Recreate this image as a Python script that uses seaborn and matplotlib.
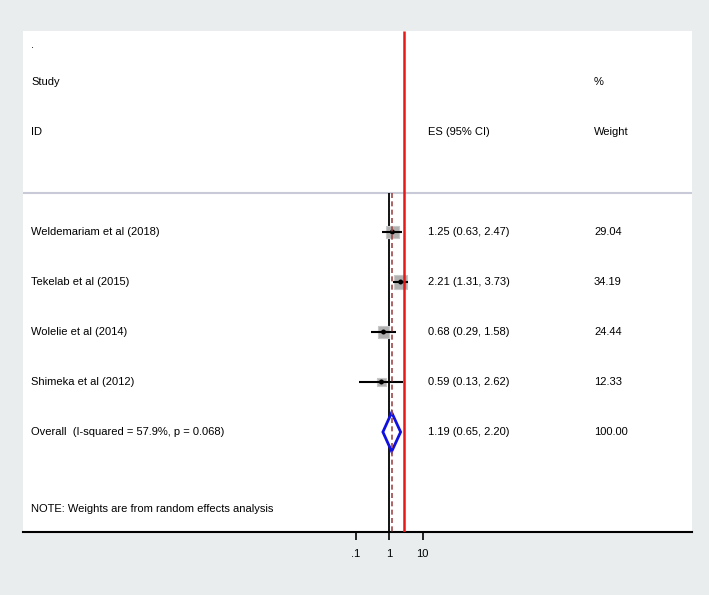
import numpy as np
import pandas as pd
import matplotlib
matplotlib.use("Agg")
import matplotlib.pyplot as plt
import matplotlib.transforms as mtransforms
from matplotlib import font_manager
import seaborn as sns

studies = ["Weldemariam et al (2018)", "Tekelab et al (2015)",
           "Wolelie et al (2014)", "Shimeka et al (2012)"]
es = [1.25, 2.21, 0.68, 0.59]
lo = [0.63, 1.31, 0.29, 0.13]
hi = [2.47, 3.73, 1.58, 2.62]
weights = [29.04, 34.19, 24.44, 12.33]
overall_label = "Overall  (I-squared = 57.9%, p = 0.068)"
overall = [1.19, 0.65, 2.20]
overall_weight = "100.00"
ref_line = 2.75
xticks = [0.1, 1, 10]
xticklabels = [".1", "1", "10"]
note = "NOTE: Weights are from random effects analysis"

names = {f.name for f in font_manager.fontManager.ttflist}
if "Liberation Sans Narrow" in names:
    plt.rcParams['font.family'] = ['Liberation Sans Narrow', 'DejaVu Sans']
    FS = 9.9
else:
    plt.rcParams['font.family'] = ['Liberation Sans', 'DejaVu Sans']
    FS = 8.0

W, H = 709, 595
fig = plt.figure(figsize=(W / 100, H / 100), dpi=100)
fig.patch.set_facecolor("#e9eded")
left, right, top, bottom = 23, 692, 31, 532
ax = fig.add_axes([left / W, (H - bottom) / H, (right - left) / W, (bottom - top) / H])
ax.set_facecolor("white")
ax.set_xscale("log")
ax.set_xlim(10 ** -10.93, 10 ** 9.04)
ax.set_ylim(6.0, -4.02)

df = pd.DataFrame({"study": studies, "es": es, "lo": lo, "hi": hi, "weight": weights})
df["row"] = np.arange(len(df))

k = 2.8
sns.scatterplot(data=df, x="es", y="row", size="weight",
                sizes=(k * min(weights), k * max(weights)),
                marker="s", color="#b0b0b0", edgecolor="#c8c8c8", linewidth=0.8,
                legend=False, ax=ax, zorder=3)
ax.hlines(df["row"], df["lo"], df["hi"], color="black", lw=1.5, zorder=4)
sns.scatterplot(data=df, x="es", y="row", color="black", s=13, edgecolor="none",
                legend=False, ax=ax, zorder=5)

orow = len(df)
ov_es, ov_lo, ov_hi = overall
dh = 0.39
ax.fill([ov_lo, ov_es, ov_hi, ov_es, ov_lo], [orow, orow - dh, orow, orow + dh, orow],
        facecolor="white", edgecolor="#1010e0", lw=2.0, zorder=4)

sep = -0.78
ax.vlines(1, sep, 6.0, color="black", lw=1.3, zorder=2)
ax.vlines(ov_es, sep, 6.0, color="#a04848", lw=1.2, linestyles=(0, (3, 2)), zorder=5)
ax.vlines(ref_line, -4.02, 6.0, color="#e81818", lw=1.8, zorder=6)
ax.axhline(sep, color="#c8cad8", lw=1.5, zorder=1)

tr = mtransforms.blended_transform_factory(ax.transAxes, ax.transData)
xs, xe, xw = (31 - left) / (right - left), (428 - left) / (right - left), (594 - left) / (right - left)
ax.text(xs, -3.74, ".", transform=tr, fontsize=FS, va="center")
ax.text(xs, -3.0, "Study", transform=tr, fontsize=FS, va="center")
ax.text(xs, -2.0, "ID", transform=tr, fontsize=FS, va="center")
ax.text(xe, -2.0, "ES (95% CI)", transform=tr, fontsize=FS, va="center")
ax.text(xw, -3.0, "%", transform=tr, fontsize=FS, va="center")
ax.text(xw, -2.0, "Weight", transform=tr, fontsize=FS, va="center")
for i, r in df.iterrows():
    ax.text(xs, r["row"], r["study"], transform=tr, fontsize=FS, va="center")
    ax.text(xe, r["row"], f"{r['es']:.2f} ({r['lo']:.2f}, {r['hi']:.2f})", transform=tr, fontsize=FS, va="center")
    ax.text(xw, r["row"], f"{r['weight']:.2f}", transform=tr, fontsize=FS, va="center")
ax.text(xs, orow, overall_label, transform=tr, fontsize=FS, va="center")
ax.text(xe, orow, f"{ov_es:.2f} ({ov_lo:.2f}, {ov_hi:.2f})", transform=tr, fontsize=FS, va="center")
ax.text(xw, orow, overall_weight, transform=tr, fontsize=FS, va="center")
ax.text(xs, 5.54, note, transform=tr, fontsize=FS, va="center")

for s in ["top", "right", "left"]:
    ax.spines[s].set_visible(False)
ax.spines["bottom"].set_color("black")
ax.spines["bottom"].set_linewidth(1.5)
ax.set_yticks([])
ax.set_xticks(xticks)
ax.set_xticklabels(xticklabels)
ax.xaxis.set_minor_locator(matplotlib.ticker.NullLocator())
ax.tick_params(axis="x", length=6, width=1.2, labelsize=FS, pad=6)
ax.set_xlabel("")
ax.set_ylabel("")

fig.savefig("out.png", dpi=100, facecolor=fig.get_facecolor())
